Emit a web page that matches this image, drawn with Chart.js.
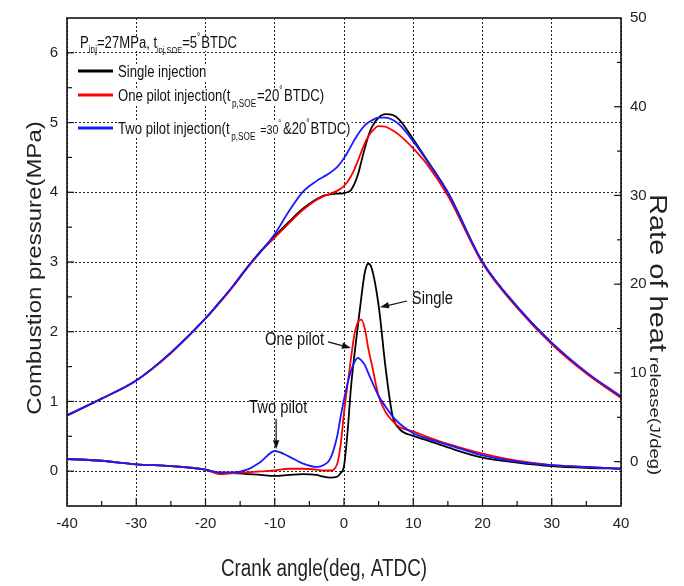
<!DOCTYPE html>
<html>
<head>
<meta charset="utf-8">
<script src="https://cdn.jsdelivr.net/npm/chart.js@4.4.1/dist/chart.umd.min.js"></script>
<style>
html,body{margin:0;padding:0;background:#fff;}
#wrap{width:684px;height:586px;position:relative;}
</style>
</head>
<body>
<div id="wrap"><canvas id="c" width="684" height="586"></canvas></div>
<script>
// ---------------- DATA ----------------
const crankAngle = [-40,-35,-30,-25,-20,-18,-16,-14,-12,-10,-8,-6,-4,-3,-2,-1,-0.5,0,0.5,1,1.5,2,2.5,3,3.5,4,5,6,7,8,10,12,15,20,25,30,35,40];

const pressureSingle   = [0.80,1.04,1.30,1.70,2.19,2.42,2.66,2.92,3.16,3.37,3.57,3.76,3.90,3.95,3.97,3.98,3.98,3.99,4.00,4.03,4.12,4.25,4.44,4.63,4.80,4.93,5.07,5.12,5.11,5.04,4.76,4.46,4.00,3.00,2.36,1.84,1.41,1.06];
const pressureOnePilot = [0.80,1.04,1.30,1.69,2.19,2.41,2.65,2.91,3.15,3.35,3.55,3.74,3.89,3.94,3.98,4.02,4.05,4.09,4.15,4.23,4.33,4.45,4.58,4.70,4.80,4.87,4.95,4.94,4.89,4.82,4.63,4.40,3.95,2.98,2.34,1.82,1.40,1.05];
const pressureTwoPilot = [0.80,1.04,1.30,1.70,2.19,2.42,2.66,2.92,3.15,3.40,3.72,4.00,4.16,4.22,4.28,4.36,4.42,4.49,4.57,4.66,4.75,4.83,4.90,4.96,5.00,5.03,5.07,5.07,5.04,4.97,4.73,4.45,3.99,3.00,2.36,1.84,1.42,1.07];

const heatSingle   = [0.3,0.1,-0.3,-0.5,-0.9,-1.3,-1.3,-1.4,-1.5,-1.6,-1.5,-1.4,-1.5,-1.7,-1.8,-1.7,-1.3,-0.5,3.2,8.3,12.0,15.3,18.5,21.3,22.3,21.8,17.6,10.6,5.2,3.7,2.9,2.4,1.6,0.45,-0.1,-0.5,-0.7,-0.8];
const heatOnePilot = [0.3,0.1,-0.3,-0.5,-0.9,-1.4,-1.3,-1.2,-1.1,-1.0,-0.8,-0.8,-0.9,-1.0,-1.0,-0.3,1.8,5.5,8.6,11.6,14.3,15.7,16.0,15.0,12.8,11.0,7.4,5.6,4.6,3.9,3.4,2.8,2.0,0.9,0.1,-0.4,-0.6,-0.8];
const heatTwoPilot = [0.3,0.1,-0.3,-0.5,-0.9,-1.2,-1.2,-0.9,0.0,1.2,0.6,-0.2,-0.6,-0.4,0.3,2.8,5.0,7.0,8.8,10.2,11.2,11.7,11.4,10.9,10.0,9.1,7.4,6.2,5.1,4.3,3.2,2.6,1.9,0.7,0.0,-0.4,-0.6,-0.8];

const xTickLabels     = [-40,-30,-20,-10,0,10,20,30,40];
const pressureTicks   = [0,1,2,3,4,5,6];
const heatTicks       = [0,10,20,30,40,50];

const seriesNames = ['Single injection', 'One pilot injection', 'Two pilot injection'];

// ---------------- STYLE ----------------
const COL_BLACK = '#000000', COL_RED = '#ff0000', COL_BLUE = '#1a1aff';
const FONT = '"Liberation Sans", Arial, sans-serif';
const SQ = 0.82; // horizontal squeeze of the reference lettering

function hasFont(name){
  const c = document.createElement('canvas').getContext('2d');
  const s = 'abcdefghijklmnopqrstuvwxyz0123456789';
  c.font = '20px monospace'; const w1 = c.measureText(s).width;
  c.font = '20px "' + name + '", monospace'; const w2 = c.measureText(s).width;
  return Math.abs(w1 - w2) > 0.5;
}
const narrow = hasFont('Liberation Sans Narrow');
const tickFont = narrow ? {family:'"Liberation Sans Narrow"', size:18} : {family:'"Liberation Sans"', size:15};

const pts = arr => crankAngle.map((a,i)=>({x:a, y:arr[i]}));

// ---------------- TEXT HELPERS ----------------
function richWidth(ctx, segs){
  let w = 0;
  for (const s of segs){ ctx.font = s.size + 'px ' + FONT; w += ctx.measureText(s.t).width + (s.gap||0); }
  return w * SQ;
}
function rich(ctx, segs, x, y){
  ctx.save(); ctx.translate(x, y); ctx.scale(SQ, 1);
  let cx = 0;
  for (const s of segs){
    ctx.font = s.size + 'px ' + FONT;
    ctx.fillText(s.t, cx, s.dy || 0);
    cx += ctx.measureText(s.t).width + (s.gap||0);
  }
  ctx.restore();
}
function text(ctx, s, x, y, size, align, rot){
  ctx.save(); ctx.translate(x, y); ctx.scale(SQ, 1); if (rot) ctx.rotate(rot);
  ctx.font = size + 'px ' + FONT; ctx.textAlign = align || 'left'; ctx.textBaseline = 'alphabetic';
  ctx.fillText(s, 0, 0);
  ctx.restore();
}
function arrow(ctx, x0, y0, x1, y1){
  const a = Math.atan2(y1-y0, x1-x0), L = 9, W = 3.2;
  ctx.beginPath(); ctx.moveTo(x0,y0); ctx.lineTo(x1 - Math.cos(a)*L*0.6, y1 - Math.sin(a)*L*0.6); ctx.stroke();
  ctx.beginPath();
  ctx.moveTo(x1, y1);
  ctx.lineTo(x1 - Math.cos(a)*L - Math.sin(a)*W, y1 - Math.sin(a)*L + Math.cos(a)*W);
  ctx.lineTo(x1 - Math.cos(a)*L + Math.sin(a)*W, y1 - Math.sin(a)*L - Math.cos(a)*W);
  ctx.closePath(); ctx.fill();
}

// legend rows (offsets from chart area top-left)
const legendRows = [
  {dy: 30, segs: [{t:'P',size:16},{t:'inj',size:10,dy:5},{t:'=27MPa, t',size:16},{t:'inj,SOE',size:9,dy:5},{t:'=5',size:16},{t:'°',size:10,dy:-8,gap:1},{t:'BTDC',size:16}]},
  {dy: 59, line: 53, color: COL_BLACK, segs: [{t:'Single injection',size:16}]},
  {dy: 83, line: 77, color: COL_RED, segs: [{t:'One pilot injection(t',size:16,gap:2},{t:'p,SOE',size:10,dy:6,gap:1},{t:'=20',size:16},{t:'°',size:10,dy:-8,gap:2},{t:'BTDC)',size:16}]},
  {dy: 116, line: 110, color: COL_BLUE, segs: [{t:'Two pilot injection(t',size:16,gap:2},{t:'p,SOE',size:10,dy:6,gap:6},{t:'=30',size:13},{t:'°',size:9,dy:-8,gap:2},{t:'&20',size:16},{t:'°',size:10,dy:-8,gap:1},{t:'BTDC)',size:16}]}
];

// annotations in data units (deg, J/deg)
const notes = [
  {t:'Single',    tx: 9.8,  ty: 17.8, align:'left',   a0:[9.1,18.1],  a1:[5.2,17.4]},
  {t:'One pilot', tx:-11.4, ty: 13.2, align:'left',   a0:[-2.3,13.5], a1:[1.0,12.8]},
  {t:'Two pilot', tx:-9.5,  ty: 5.5,  align:'center', a0:[-9.8,4.8],  a1:[-9.8,1.4]}
];

const decor = {
  id: 'decor',
  beforeDatasetsDraw(chart){
    const {ctx, chartArea:{left, top}} = chart;
    ctx.save();
    ctx.fillStyle = '#fff';
    for (const r of legendRows){
      const x = left + (r.line ? 51 : 13);
      const w = richWidth(ctx, r.segs);
      ctx.fillRect(x - 1, top + r.dy - 12, w + 2, 15);
    }
    ctx.restore();
  },
  afterDatasetsDraw(chart){
    const {ctx, chartArea:{left, right, top, bottom}, scales:{x, y, y2}} = chart;
    ctx.save();
    ctx.fillStyle = '#111';
    for (const r of legendRows){
      if (r.line){
        ctx.strokeStyle = r.color; ctx.lineWidth = 3;
        ctx.beginPath(); ctx.moveTo(left + 11, top + r.line); ctx.lineTo(left + 46, top + r.line); ctx.stroke();
        rich(ctx, r.segs, left + 51, top + r.dy);
      } else {
        rich(ctx, r.segs, left + 13, top + r.dy);
      }
    }
    ctx.fillStyle = '#111'; ctx.strokeStyle = '#111'; ctx.lineWidth = 1.2;
    for (const n of notes){
      text(ctx, n.t, x.getPixelForValue(n.tx), y2.getPixelForValue(n.ty), 18, n.align);
      arrow(ctx, x.getPixelForValue(n.a0[0]), y2.getPixelForValue(n.a0[1]), x.getPixelForValue(n.a1[0]), y2.getPixelForValue(n.a1[1]));
    }
    ctx.restore();
  },
  afterDraw(chart){
    const {ctx, chartArea:{left, right, top, bottom}, scales:{x, y, y2}} = chart;
    ctx.save();
    ctx.strokeStyle = '#111'; ctx.lineWidth = 1.2;
    const seg = (a,b,c,d)=>{ctx.beginPath(); ctx.moveTo(a,b); ctx.lineTo(c,d); ctx.stroke();};
    for (let v = -35; v < 40; v += 5){ const px = x.getPixelForValue(v); seg(px, bottom, px, bottom - (v % 10 === 0 ? 8 : 5)); }
    for (let v = 0; v <= 6.01; v += 0.5){ const py = y.getPixelForValue(v); seg(left, py, left + (v % 1 === 0 ? 7 : 5), py); }
    for (let v = 0; v <= 45; v += 5){ const py = y2.getPixelForValue(v); seg(right, py, right - (v % 10 === 0 ? 7 : 4), py); }
    ctx.lineWidth = 1.6; ctx.strokeStyle = '#111';
    ctx.strokeRect(left, top, right - left, bottom - top);
    // axis titles
    ctx.fillStyle = '#222';
    text(ctx, 'Crank angle(deg, ATDC)', 324, 576, 23, 'center');
    text(ctx, 'Combustion pressure(MPa)', 41, 268, 24, 'center', -Math.PI / 2);
    // right title: mixed sizes, reading downward (length direction is not squeezed)
    ctx.save();
    ctx.translate(650, 194); ctx.scale(SQ, 1); ctx.rotate(Math.PI / 2);
    ctx.textAlign = 'left'; ctx.textBaseline = 'alphabetic';
    ctx.font = '29px ' + FONT; ctx.fillText('Rate of heat', 0, 0);
    const w = ctx.measureText('Rate of heat').width + 5;
    ctx.font = '18.5px ' + FONT; ctx.fillText('release(J/deg)', w, 0);
    ctx.restore();
    ctx.restore();
  }
};

const tickCommon = {font: tickFont, color: '#222', padding: 9, maxRotation: 0, autoSkip: false, callback: v => String(v)};

new Chart(document.getElementById('c'), {
  type: 'line',
  data: {
    datasets: [
      {label: seriesNames[0] + ' pressure', data: pts(pressureSingle),   yAxisID: 'y',  borderColor: COL_BLACK, order: 3},
      {label: seriesNames[1] + ' pressure', data: pts(pressureOnePilot), yAxisID: 'y',  borderColor: COL_RED,   order: 2},
      {label: seriesNames[2] + ' pressure', data: pts(pressureTwoPilot), yAxisID: 'y',  borderColor: COL_BLUE,  order: 1},
      {label: seriesNames[0] + ' heat release', data: pts(heatSingle),   yAxisID: 'y2', borderColor: COL_BLACK, order: 3},
      {label: seriesNames[1] + ' heat release', data: pts(heatOnePilot), yAxisID: 'y2', borderColor: COL_RED,   order: 2},
      {label: seriesNames[2] + ' heat release', data: pts(heatTwoPilot), yAxisID: 'y2', borderColor: COL_BLUE,  order: 1}
    ]
  },
  options: {
    responsive: false, animation: false,
    layout: {padding: {top: 17, left: 0, right: 0, bottom: 0}},
    plugins: {legend: {display: false}, tooltip: {enabled: false}},
    elements: {point: {radius: 0}, line: {borderWidth: 1.8, cubicInterpolationMode: 'monotone', fill: false}},
    scales: {
      x: {type: 'linear', min: -40, max: 40,
          afterBuildTicks: s => { s.ticks = xTickLabels.map(v => ({value: v})); },
          afterFit: s => { s.height = 80; },
          ticks: tickCommon,
          grid: {color: '#222', lineWidth: 1, drawTicks: false},
          border: {display: false, dash: [2, 2]}},
      y: {type: 'linear', position: 'left', min: -0.5, max: 6.5,
          afterBuildTicks: s => { s.ticks = pressureTicks.map(v => ({value: v})); },
          afterFit: s => { s.width = 67; },
          ticks: tickCommon,
          grid: {color: '#222', lineWidth: 1, drawTicks: false},
          border: {display: false, dash: [2, 2]}},
      y2: {type: 'linear', position: 'right', min: -5, max: 50,
          afterBuildTicks: s => { s.ticks = heatTicks.map(v => ({value: v})); },
          afterFit: s => { s.width = 63; },
          ticks: tickCommon,
          grid: {display: false, drawTicks: false},
          border: {display: false}}
    }
  },
  plugins: [decor]
});
</script>
</body>
</html>
